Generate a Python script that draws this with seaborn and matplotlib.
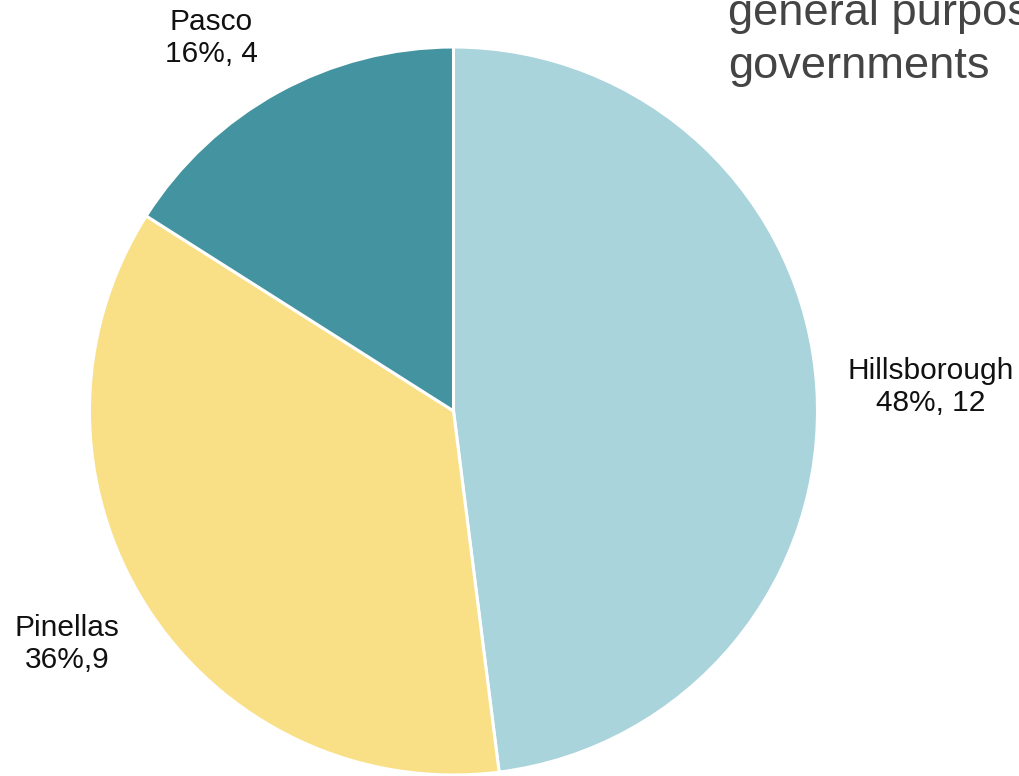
import matplotlib
matplotlib.use("Agg")
import matplotlib.pyplot as plt
import seaborn as sns

counties = ["Hillsborough", "Pinellas", "Pasco"]
counts = [12, 9, 4]
shares = ["48%, 12", "36%,9", "16%, 4"]
colors = ["#A9D4DB", "#F9E086", "#4394A0"]
title_lines = ["general purpose", "governments"]

sns.set_theme(style="white")
plt.rcParams["font.family"] = ["Liberation Sans", "DejaVu Sans"]

W, H = 1020, 776
fig = plt.figure(figsize=(W / 100, H / 100), dpi=100)
ax = fig.add_axes([0, 0, 1, 1])

cx, cy, R = 453.5, 411, 364
ax.pie(counts, colors=colors, startangle=90, counterclock=False,
       radius=1, center=(0, 0),
       wedgeprops=dict(edgecolor="white", linewidth=2.2))
ax.set_aspect("auto")
ax.set_xlim(-cx / R, (W - cx) / R)
ax.set_ylim(-(H - cy) / R, cy / R)
ax.axis("off")

def px(x, y):
    return (x - cx) / R, (cy - y) / R

label_pos = {"Hillsborough": (931, 387), "Pinellas": (67, 644), "Pasco": (211, 38)}
for name, share in zip(counties, shares):
    x, y = px(*label_pos[name])
    ax.text(x, y, f"{name}\n{share}", ha="center", va="center",
            fontsize=21.5, color="#111111", linespacing=1.18)

fig.text(728 / W, 1 - 25 / H, title_lines[0], ha="left", va="baseline",
         fontsize=32.6, color="#444444")
fig.text(728 / W, 1 - 78 / H, title_lines[1], ha="left", va="baseline",
         fontsize=32.6, color="#444444")

fig.savefig("out.png", dpi=100, facecolor="white")
